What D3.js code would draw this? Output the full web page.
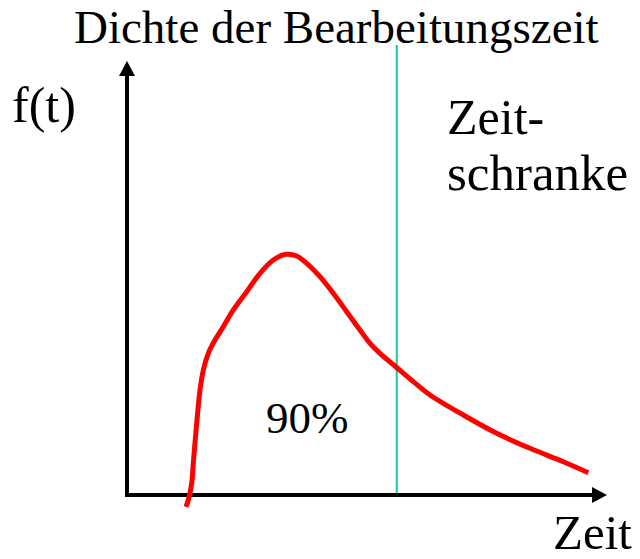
<!DOCTYPE html>
<html>
<head>
<meta charset="utf-8">
<script src="https://cdn.jsdelivr.net/npm/d3@7"></script>
<style>
  html, body { margin: 0; padding: 0; background: #fff; }
</style>
</head>
<body>
<div id="chart"></div>
<script>
// Density curve f(t) (arbitrary units 0..100)
const curveT = [12.29, 12.77, 13.48, 13.81, 14.52, 15.21, 15.90, 16.94, 18.33, 20.06, 22.15, 24.94, 27.71, 30.48, 33.13, 35.35, 37.44, 40.21, 42.98, 45.77, 48.54, 50.63, 52.71, 56.19, 59.65, 63.13, 70.06, 77.02, 83.96, 90.90, 96.10];
const curveF = [-2.76, -1.15, 2.70, 7.30, 16.52, 24.19, 28.80, 32.65, 35.71, 38.78, 42.63, 46.84, 51.08, 54.15, 55.46, 55.07, 53.39, 50.30, 46.47, 42.24, 38.02, 34.95, 32.65, 29.38, 26.11, 23.04, 18.43, 14.22, 10.76, 7.67, 5.14];
const deadline = 56.2;

const labels = {
  title: 'Dichte der Bearbeitungszeit',
  yLabel: 'f(t)',
  xLabel: 'Zeit',
  deadline: ['Zeit-', 'schranke'],
  share: '90%'
};

const width = 640;
const height = 559;
const serif = '"Liberation Serif", "Times New Roman", Times, serif';

const x = d3.scaleLinear().domain([0, 100]).range([127, 607]);
const y = d3.scaleLinear().domain([0, 100]).range([495, 61]);

const svg = d3.select('#chart')
  .append('svg')
  .attr('width', width)
  .attr('height', height);

// deadline line (drawn first, axis goes over it)
svg.append('line')
  .attr('x1', x(deadline))
  .attr('x2', x(deadline))
  .attr('y1', 45)
  .attr('y2', y(0))
  .attr('stroke', '#19c9a0')
  .attr('stroke-width', 2);

// axes with arrow heads
svg.append('line')
  .attr('x1', x(0)).attr('y1', y(0) + 2)
  .attr('x2', x(0)).attr('y2', y(100) + 12)
  .attr('stroke', '#000')
  .attr('stroke-width', 4);
svg.append('path')
  .attr('d', `M${x(0)},${y(100)} L${x(0) - 8},${y(100) + 15} L${x(0) + 8},${y(100) + 15} Z`)
  .attr('fill', '#000');

svg.append('line')
  .attr('x1', x(0) - 2).attr('y1', y(0))
  .attr('x2', x(100) - 12).attr('y2', y(0))
  .attr('stroke', '#000')
  .attr('stroke-width', 4);
svg.append('path')
  .attr('d', `M${x(100)},${y(0)} L${x(100) - 15},${y(0) - 8} L${x(100) - 15},${y(0) + 8} Z`)
  .attr('fill', '#000');

// density curve
const line = d3.line()
  .x(d => x(d[0]))
  .y(d => y(d[1]))
  .curve(d3.curveCatmullRom.alpha(0.5));

svg.append('path')
  .datum(d3.zip(curveT, curveF))
  .attr('d', line)
  .attr('fill', 'none')
  .attr('stroke', '#ff0000')
  .attr('stroke-width', 5);

// texts
function label(txt, px, py, size) {
  return svg.append('text')
    .attr('x', px).attr('y', py)
    .attr('font-family', serif)
    .attr('font-size', size)
    .attr('fill', '#000')
    .text(txt);
}

label(labels.title, 74, 43, 47);
label(labels.yLabel, 12, 122, 50);
label(labels.deadline[0], 447, 134, 50);
label(labels.deadline[1], 447, 190, 51);
label(labels.share, 266, 433, 45);
label(labels.xLabel, 553, 549, 49);
</script>
</body>
</html>
